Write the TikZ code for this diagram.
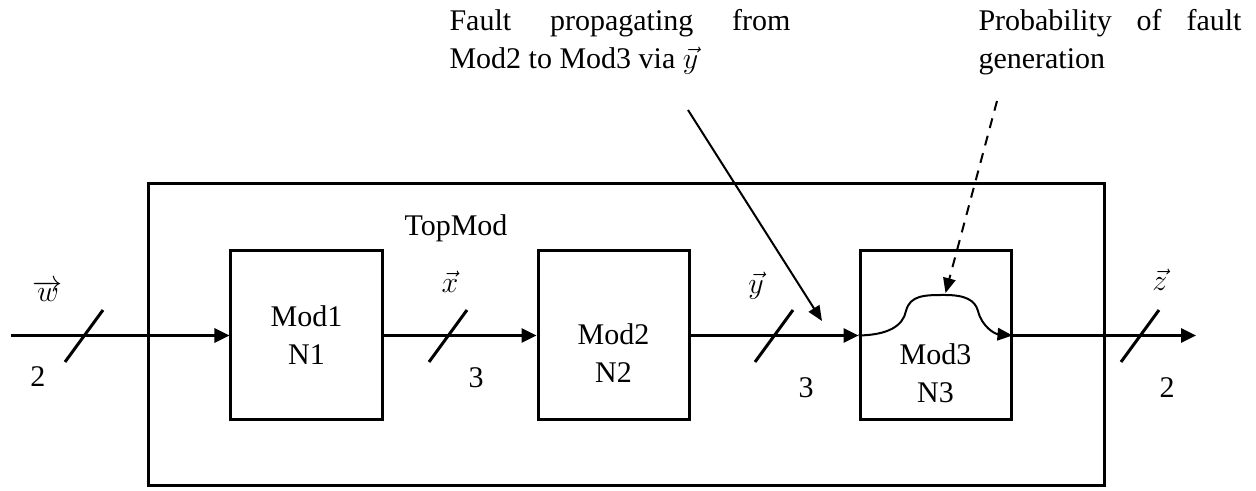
\documentclass[tikz,border=0pt]{standalone}
\usepackage{fontspec}
\setmainfont{Liberation Serif}
\usetikzlibrary{arrows.meta}
\usetikzlibrary{positioning,fit}

\tikzset{
  module/.style={draw, line width=1.2pt, minimum width=60.4pt, minimum height=67.6pt, inner sep=0pt},
  bus/.style={line width=1.2pt, -{Triangle[length=6pt,width=5.6pt]}},
  tick/.style={line width=1.2pt},
  pointer/.style={line width=0.8pt, -{Triangle[length=6pt,width=5pt]}},
  note/.style={align=justify, inner sep=0pt, anchor=north west},
}

\begin{document}
\begin{tikzpicture}[x=0.4pt, y=-0.4pt, font=\fontsize{12}{15.2}\selectfont]
  \useasboundingbox (0,0) rectangle (1256,491);

  % top level frame
  \coordinate (tl) at (148,184);
  \coordinate (br) at (1104,486);
  \node [draw, line width=1.2pt, fit=(tl)(br), inner sep=0pt] (topmod) {};
  \node (toplbl) at (456,228) {TopMod};

  \node [module] (mod1) at (306.5,335.5) {};
  \node [module, right=61.2pt of mod1] (mod2) {};
  \node [module, right=67.2pt of mod2] (mod3) {};

  \begin{scope}[every node/.style={align=center}]
    \node (mod1txt) at (mod1.center) {Mod1\\N1};
    \node (mod2txt) at ([yshift=-7pt]mod2.center) {Mod2\\N2};
    \node (mod3txt) at ([yshift=-15.2pt]mod3.center) {Mod3\\N3};
  \end{scope}

  % buses
  \coordinate (win) at (11,335.5);
  \coordinate (zout) at (1196,335.5);
  \draw [bus] (win) -- (mod1.west);
  \draw [bus] (mod1.east) -- (mod2.west);
  \draw [bus] (mod2.east) -- (mod3.west);
  \draw [bus] (mod3.east) -- (zout);
  \foreach \cx in {84,448,774,1140}
    \draw [tick] (\cx-19,362) -- (\cx+19,310);

  \node (wlbl) at (48,291) {$\overrightarrow{w}$};
  \node (xlbl) at (450,282) {$\vec{x}$};
  \node (ylbl) at (756,286) {$\vec{y}$};
  \node (zlbl) at (1160,280) {$\vec{z}$};
  \node (wbits) at (38,377) {2};
  \node (xbits) at (476,378) {3};
  \node (ybits) at (806,388) {3};
  \node (zbits) at (1167,388) {2};

  % fault path through Mod3
  \coordinate (bump) at (945,295);
  \draw [pointer] (mod3.west) .. controls (888,335) and (903,326) .. (906,311)
    .. controls (910,295) and (925,295) .. (bump)
    .. controls (965,295) and (975,300) .. (978,311)
    .. controls (982,327) and (995,334) .. (mod3.east);

  \node [note, text width=136.4pt] (propnote) at (449,9) {Fault propagating from\linebreak Mod2 to Mod3 via $\vec{y}$};
  \node [note, text width=105.2pt] (gennote) at (978,9) {Probability of fault\linebreak generation};

  \coordinate (psrc) at (688,110);
  \coordinate (pdst) at (822,321);
  \coordinate (gsrc) at (997,101);
  \draw [pointer] (psrc) -- (pdst);
  \draw [pointer, dash pattern=on 4pt off 3.2pt, shorten >=0.8pt] (gsrc) -- (bump);
\end{tikzpicture}
\end{document}
